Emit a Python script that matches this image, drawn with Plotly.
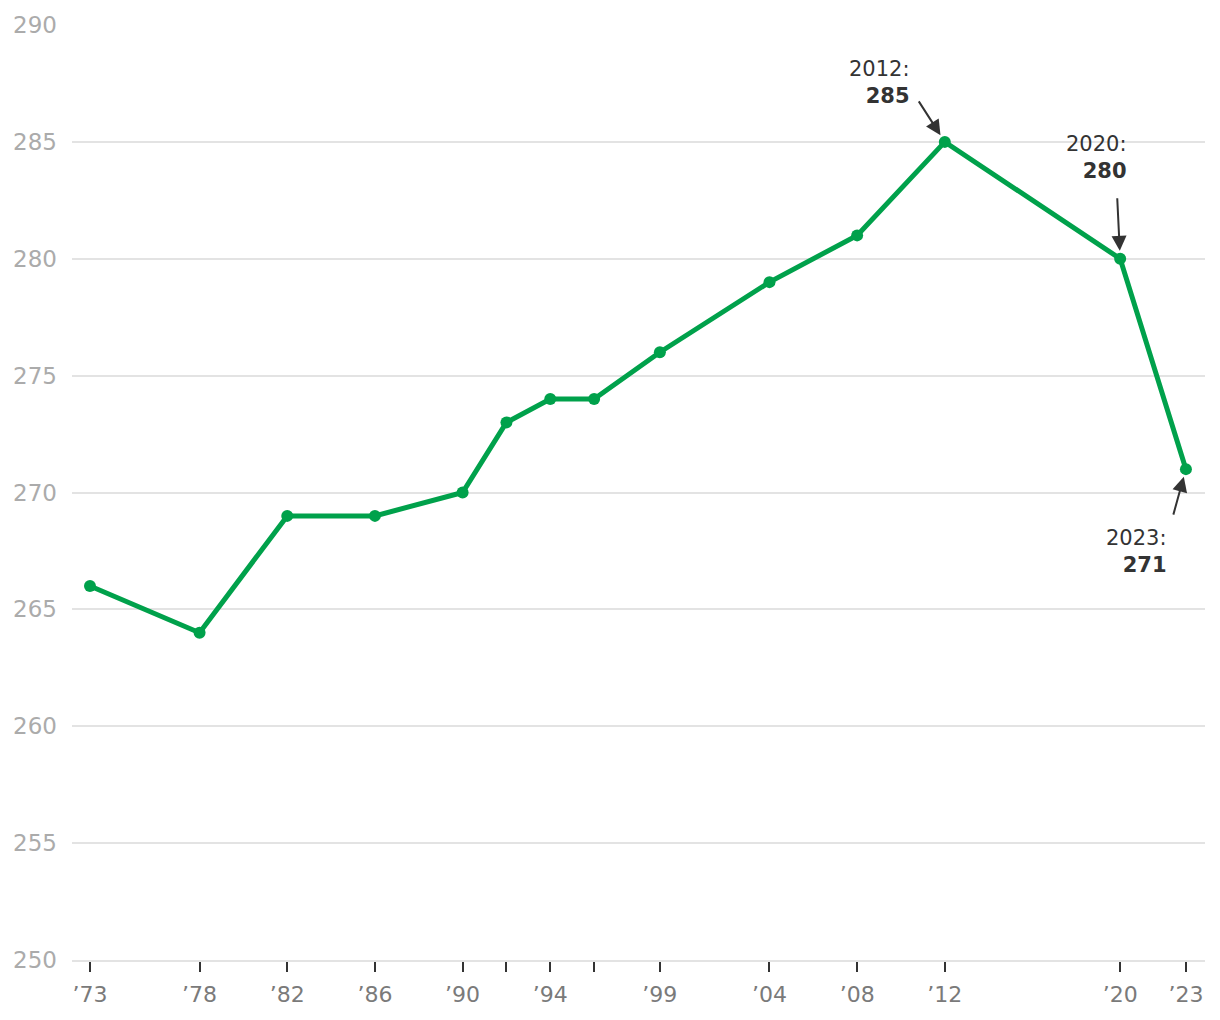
import plotly.graph_objects as go

years = [1973, 1978, 1982, 1986, 1990, 1992, 1994, 1996, 1999, 2004, 2008, 2012, 2020, 2023]
scores = [266, 264, 269, 269, 270, 273, 274, 274, 276, 279, 281, 285, 280, 271]
tick_text = ["’73", "’78", "’82", "’86", "’90", "", "’94", "", "’99", "’04", "’08", "’12", "’20", "’23"]
y_ticks = [250, 255, 260, 265, 270, 275, 280, 285, 290]

callouts = [
    # year, value, label, text xshift, text yshift, xanchor, yanchor, arrow ax, ay
    (2012, 285, "2012:<br><b>285</b>", -33, 32, "right", "bottom", -27, -42),
    (2020, 280, "2020:<br><b>280</b>", 9, 74, "right", "bottom", -3, -62),
    (2023, 271, "2023:<br><b>271</b>", -17, -55, "right", "top", -13, 47),
]

FONT = "DejaVu Sans, Liberation Sans, Arial, sans-serif"
GREEN = "#00a14b"

fig = go.Figure()
fig.add_trace(go.Scatter(
    x=years, y=scores, mode="lines+markers",
    line=dict(color=GREEN, width=5),
    marker=dict(color=GREEN, size=12),
    hoverinfo="skip", showlegend=False,
))

annotations = []
for yr, val, label, xs, ys, xa, ya, ax, ay in callouts:
    annotations.append(dict(
        x=yr, y=val, xref="x", yref="y", text=label, showarrow=False,
        xanchor=xa, yanchor=ya, xshift=xs, yshift=ys, align="right",
        font=dict(family=FONT, size=21, color="#333333"),
    ))
    annotations.append(dict(
        x=yr, y=val, xref="x", yref="y", text="", showarrow=True,
        ax=ax, ay=ay, axref="pixel", ayref="pixel",
        arrowhead=2, arrowsize=1.5, arrowwidth=2, arrowcolor="#333333",
        standoff=8,
    ))

fig.update_layout(
    width=1220, height=1020,
    margin=dict(l=72, r=15, t=23, b=60),
    plot_bgcolor="white", paper_bgcolor="white",
    font=dict(family=FONT),
    annotations=annotations,
    xaxis=dict(
        range=[1972.18, 2023.87],
        tickvals=years, ticktext=tick_text,
        ticks="outside", ticklen=10, tickwidth=2, tickcolor="#333333",
        showgrid=False, zeroline=False,
        showline=True, linecolor="#e3e3e3", linewidth=2,
        tickfont=dict(family=FONT, size=22, color="#7a7a7a"),
        ticklabelstandoff=4,
    ),
    yaxis=dict(
        range=[250, 290], tickvals=y_ticks,
        showgrid=True, gridcolor="#e3e3e3", gridwidth=1.5,
        zeroline=False, showline=False, ticks="",
        tickfont=dict(family=FONT, size=23, color="#ababab"),
        ticklabelstandoff=14,
    ),
)

fig.write_html("out.html")
